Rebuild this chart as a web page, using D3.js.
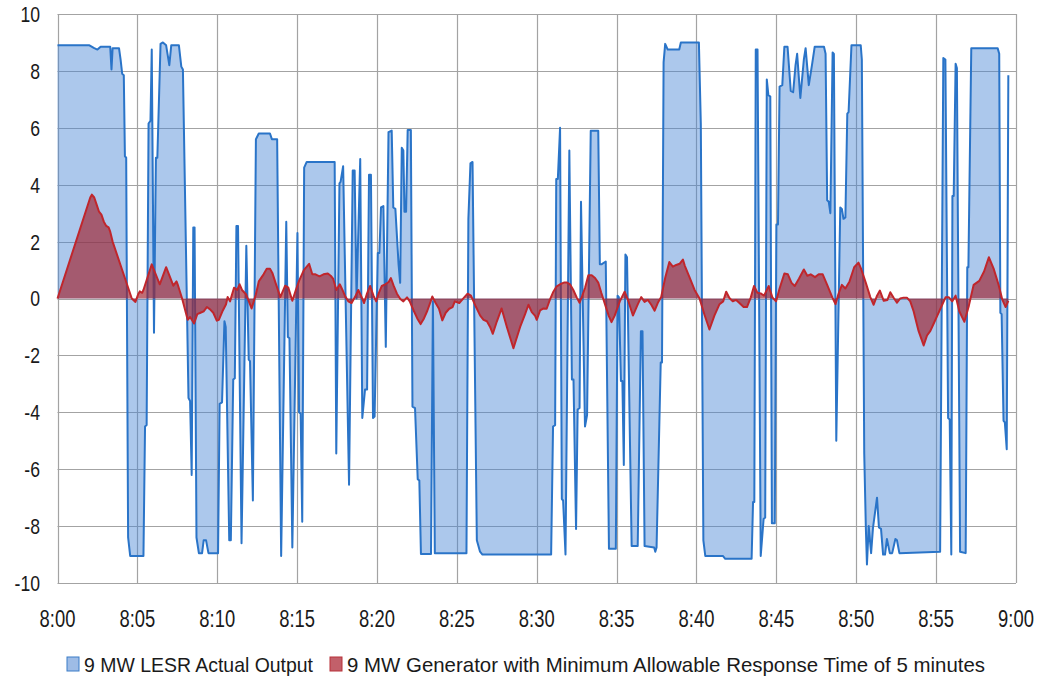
<!DOCTYPE html>
<html>
<head>
<meta charset="utf-8">
<script src="https://cdn.jsdelivr.net/npm/d3@7"></script>
<style>
  html, body { margin: 0; padding: 0; background: #fff; }
  svg text { font-family: "Liberation Sans", Arial, sans-serif; fill: #1a1a1a; }
</style>
</head>
<body>
<svg id="chart" width="1039" height="677"></svg>
<script>
// minutes after 8:00, MW
var lesrOutput = [
  [0, 8.9], [2.0, 8.9], [2.3, 8.8], [2.5, 8.75], [2.7, 8.85], [3.3, 8.85], [3.38, 8.05], [3.45, 8.8],
  [3.85, 8.8], [3.95, 8.4], [4.05, 7.9], [4.15, 7.85], [4.22, 5.0], [4.3, 4.95], [4.42, -8.4], [4.55, -9.05],
  [5.38, -9.05], [5.48, -4.5], [5.58, -4.45], [5.7, 6.15], [5.82, 6.25], [5.9, 8.75], [6.04, -1.2], [6.16, 4.95],
  [6.25, 4.95], [6.45, 8.95], [6.6, 9.0], [6.8, 8.9], [7.0, 8.2], [7.12, 8.9], [7.6, 8.9], [7.75, 8.15],
  [7.85, 8.05], [8.2, -3.5], [8.3, -3.6], [8.4, -6.2], [8.5, 2.5], [8.58, 2.5], [8.7, -8.4], [8.85, -8.95],
  [9.05, -8.95], [9.15, -8.5], [9.3, -8.5], [9.45, -8.95], [10.05, -8.95], [10.15, -3.7], [10.3, -3.65],
  [10.45, -0.8], [10.53, -1.0], [10.75, -8.5], [10.85, -8.5], [11.0, -2.85], [11.1, -2.8], [11.2, 2.55],
  [11.3, 2.55], [11.52, -8.6], [11.82, 1.85], [11.97, -2.15], [12.05, -2.2], [12.23, -7.1], [12.42, 5.6],
  [12.6, 5.8], [13.3, 5.8], [13.42, 5.6], [13.75, 5.6], [14.0, -9.05], [14.32, 2.7], [14.42, -1.35],
  [14.52, -1.4], [14.7, -8.75], [15.02, 2.3], [15.12, -4.0], [15.22, -4.05], [15.32, -7.85], [15.44, 4.6],
  [15.6, 4.8], [17.35, 4.8], [17.45, -5.45], [17.65, 4.05], [17.72, 4.1], [17.88, 4.65], [18.25, -6.55],
  [18.48, 4.5], [18.6, 4.5], [18.72, 0.0], [18.95, 4.9], [19.08, -4.2], [19.25, -3.2], [19.38, -3.2],
  [19.5, 4.35], [19.62, 4.35], [19.75, -4.2], [19.85, -4.15], [20.05, 1.6], [20.15, 1.6], [20.25, 3.2],
  [20.4, 3.25], [20.55, -1.7], [20.72, 5.85], [20.92, 5.9], [21.02, 3.2], [21.15, 3.15], [21.35, 1.2],
  [21.45, 0.55], [21.55, 5.3], [21.65, 5.2], [21.72, 3.05], [21.82, 3.05], [21.92, 5.92], [22.12, 5.92],
  [22.22, -3.8], [22.38, -3.85], [22.55, -6.35], [22.65, -6.4], [22.75, -8.98], [23.38, -8.98], [23.5, -0.1],
  [23.62, -8.95], [25.6, -8.95], [25.72, 2.8], [25.85, 4.75], [25.98, 4.8], [26.25, -8.5], [26.45, -8.9],
  [26.6, -9.0], [30.9, -9.0], [31.02, -4.5], [31.15, -4.45], [31.22, 4.2], [31.32, 4.2], [31.46, 6.0],
  [31.57, -7.05], [31.65, -7.1], [31.8, -9.0], [32.04, 5.2], [32.2, -2.85], [32.3, -2.85], [32.46, -8.1],
  [32.56, -3.9], [32.68, -3.85], [32.77, 3.4], [33.02, -4.5], [33.15, -4.1], [33.38, 5.9], [33.85, 5.9],
  [33.95, 1.2], [34.05, 1.2], [34.32, 1.3], [34.52, -8.8], [34.95, -8.8], [35.06, 0.1], [35.14, 0.05],
  [35.27, -2.9], [35.36, -2.9], [35.45, -5.85], [35.55, 1.55], [35.65, 1.45], [35.94, -8.7], [36.32, -8.7],
  [36.52, -1.15], [36.62, -1.15], [36.75, -8.7], [37.35, -8.75], [37.42, -8.9], [37.5, -8.75], [37.76, -2.25],
  [37.84, -2.25], [37.94, 8.3], [38.04, 8.95], [38.2, 8.75], [38.92, 8.75], [39.02, 9.0], [40.15, 9.0],
  [40.27, 6.15], [40.43, -8.5], [40.55, -9.05], [41.65, -9.05], [41.8, -9.15], [43.45, -9.15], [43.54, -7.15],
  [43.62, -7.15], [43.71, 8.75], [43.82, 8.75], [44.02, -9.05], [44.2, -7.75], [44.3, -7.7], [44.4, 7.7],
  [44.5, 7.15], [44.62, 7.1], [44.72, -7.9], [44.9, -7.9], [45.0, 2.6], [45.1, 2.6], [45.2, 7.45],
  [45.37, 7.5], [45.5, 8.85], [45.7, 8.85], [45.9, 7.3], [46.05, 7.25], [46.2, 8.2], [46.3, 8.6],
  [46.5, 7.05], [46.72, 8.4], [46.83, 8.8], [47.03, 7.5], [47.24, 8.25], [47.4, 8.85], [47.98, 8.85],
  [48.08, 8.6], [48.18, 3.45], [48.28, 3.4], [48.38, 3.0], [48.52, 8.65], [48.6, 8.6], [48.75, -5.0],
  [49.0, 3.2], [49.1, 3.15], [49.2, 2.8], [49.32, 2.85], [49.44, 6.5], [49.52, 6.55], [49.7, 8.9],
  [50.28, 8.9], [50.35, 8.4], [50.5, -5.45], [50.6, -8.05], [50.67, -9.35], [50.78, -8.0], [50.93, -8.95],
  [51.05, -8.05], [51.3, -7.0], [51.42, -8.05], [51.55, -8.1], [51.68, -9.0], [51.8, -9.0], [51.92, -8.45],
  [52.1, -8.95], [52.25, -8.95], [52.45, -8.45], [52.55, -8.5], [52.7, -8.95], [55.25, -8.9], [55.45, 8.45],
  [55.58, 8.4], [55.75, -4.2], [55.85, -4.25], [55.95, -9.0], [56.02, 3.6], [56.1, 3.6], [56.22, 8.25],
  [56.3, 8.1], [56.5, -8.9], [56.85, -8.95], [56.95, 1.1], [57.02, 1.1], [57.2, 8.8], [58.85, 8.8],
  [58.95, 8.6], [59.02, -0.5], [59.1, -0.55], [59.22, -4.3], [59.3, -4.35], [59.42, -5.3], [59.52, 7.85]
];

var generatorOutput = [
  [0, 0], [2.05, 3.55], [2.15, 3.65], [2.3, 3.55], [2.45, 3.3], [2.6, 3.05], [2.75, 2.95], [2.9, 2.7],
  [3.05, 2.55], [3.2, 2.5], [3.3, 2.35], [3.45, 2.0], [4.65, 0.0], [4.88, -0.12], [5.05, 0.15], [5.15, 0.25],
  [5.3, 0.2], [5.38, 0.3], [5.9, 1.2], [6.4, 0.5], [6.8, 1.1], [7.25, 0.45], [7.45, 0.6], [7.55, 0.45],
  [7.8, 0.0], [8.15, -0.75], [8.3, -0.65], [8.55, -0.88], [8.75, -0.55], [8.95, -0.5], [9.15, -0.45],
  [9.35, -0.3], [9.55, -0.38], [9.75, -0.5], [9.97, -0.78], [10.1, -0.75], [10.35, -0.42], [10.55, -0.2],
  [10.65, 0.05], [10.8, -0.1], [11.05, 0.38], [11.25, 0.3], [11.4, 0.5], [11.55, 0.3], [11.8, 0.15],
  [12.15, -0.35], [12.42, 0.15], [12.6, 0.6], [12.9, 0.85], [13.1, 1.05], [13.3, 1.05], [13.45, 0.9],
  [13.65, 0.55], [13.95, 0.05], [14.25, 0.45], [14.45, 0.38], [14.7, -0.08], [14.92, 0.3], [15.12, 0.62],
  [15.42, 1.0], [15.75, 1.22], [15.95, 0.85], [16.15, 0.85], [16.4, 0.78], [16.65, 0.85], [16.92, 0.88],
  [17.1, 0.8], [17.25, 0.7], [17.46, 0.3], [17.67, 0.5], [17.84, 0.3], [17.99, 0.1], [18.2, -0.1],
  [18.41, -0.16], [18.62, 0.05], [18.83, 0.3], [19.04, 0.05], [19.19, -0.16], [19.36, 0.15], [19.57, 0.44],
  [19.78, 0.1], [19.95, -0.1], [20.1, 0.17], [20.3, 0.44], [20.52, 0.5], [20.73, 0.58], [20.87, 0.72],
  [21.04, 0.45], [21.25, 0.17], [21.46, -0.02], [21.65, -0.1], [21.88, 0.04], [22.05, -0.1], [22.3, -0.43],
  [22.52, -0.7], [22.73, -0.9], [22.94, -0.7], [23.15, -0.43], [23.36, -0.1], [23.46, 0.07], [23.67, -0.16],
  [23.88, -0.36], [24.09, -0.77], [24.3, -0.5], [24.52, -0.36], [24.73, -0.3], [24.87, -0.1], [25.15, -0.16],
  [25.46, 0.04], [25.67, 0.17], [25.88, 0.1], [26.2, -0.3], [26.46, -0.6], [26.67, -0.75], [26.88, -0.8],
  [27.08, -1.0], [27.25, -1.24], [27.5, -0.81], [27.8, -0.35], [28.13, -1.0], [28.54, -1.75], [28.96, -1.0],
  [29.27, -0.55], [29.48, -0.22], [29.69, -0.48], [29.9, -0.61], [30.0, -0.75], [30.21, -0.42], [30.42, -0.35],
  [30.62, -0.36], [30.83, -0.03], [31.04, 0.24], [31.25, 0.43], [31.46, 0.5], [31.7, 0.56], [31.9, 0.56],
  [32.08, 0.5], [32.29, 0.3], [32.5, 0.04], [32.68, -0.15], [32.85, 0.1], [33.02, 0.37], [33.23, 0.82],
  [33.44, 0.82], [33.65, 0.72], [33.85, 0.56], [34.04, 0.2], [34.3, -0.25], [34.5, -0.6], [34.68, -0.83],
  [34.88, -0.6], [35.2, -0.1], [35.5, 0.24], [35.69, -0.02], [36.02, -0.6], [36.33, -0.2], [36.54, 0.05],
  [36.75, -0.12], [36.95, -0.05], [37.17, -0.22], [37.38, -0.43], [37.58, -0.15], [37.79, 0.05], [38.05, 0.75],
  [38.3, 1.28], [38.52, 1.12], [38.73, 1.18], [38.94, 1.22], [39.15, 1.37], [39.27, 1.15], [39.56, 0.75],
  [39.88, 0.3], [40.19, 0.0], [40.5, -0.57], [40.81, -1.09], [41.12, -0.6], [41.44, -0.2], [41.67, -0.1],
  [41.86, 0.24], [42.06, 0.02], [42.27, -0.1], [42.48, -0.05], [42.67, -0.15], [42.95, -0.3], [43.16, -0.3],
  [43.4, 0.04], [43.6, 0.44], [43.81, 0.2], [44.02, 0.18], [44.23, 0.1], [44.52, 0.44], [44.75, 0.04],
  [44.98, -0.1], [45.2, 0.35], [45.5, 0.88], [45.72, 0.85], [45.95, 0.55], [46.15, 0.44], [46.42, 0.7],
  [46.72, 1.02], [46.94, 0.8], [47.15, 0.85], [47.42, 0.75], [47.65, 0.85], [47.9, 0.85], [48.18, 0.48],
  [48.5, 0.04], [48.7, -0.2], [48.88, 0.15], [49.1, 0.48], [49.32, 0.35], [49.58, 0.6], [49.87, 1.1],
  [50.14, 1.26], [50.3, 1.05], [50.6, 0.55], [50.88, 0.05], [51.09, -0.22], [51.3, 0.1], [51.48, 0.28],
  [51.72, -0.08], [51.95, -0.05], [52.13, 0.22], [52.35, 0.02], [52.55, -0.15], [52.75, 0.0], [52.96, 0.03],
  [53.17, 0.03], [53.38, -0.1], [53.59, -0.45], [53.9, -1.14], [54.22, -1.65], [54.43, -1.3], [54.64, -1.14],
  [54.85, -0.88], [55.06, -0.62], [55.38, -0.22], [55.59, 0.04], [55.8, 0.04], [56.01, -0.1], [56.22, 0.1],
  [56.45, -0.45], [56.77, -0.82], [57.05, -0.25], [57.35, 0.48], [57.7, 0.62], [58.0, 0.95], [58.3, 1.45],
  [58.6, 1.05], [58.9, 0.5], [59.15, -0.05], [59.35, -0.3], [59.52, -0.08]
];

var timeTicks = [0, 5, 10, 15, 20, 25, 30, 35, 40, 45, 50, 55, 60];
var timeLabels = ['8:00', '8:05', '8:10', '8:15', '8:20', '8:25', '8:30', '8:35', '8:40', '8:45', '8:50', '8:55', '9:00'];
var mwTicks = [-10, -8, -6, -4, -2, 0, 2, 4, 6, 8, 10];
var seriesNames = ['9 MW LESR Actual Output', '9 MW Generator with Minimum Allowable Response Time of 5 minutes'];

var width = 1039;
var height = 677;
var margin = { left: 57.5, right: 23, top: 14, bottom: 94 };
var squeeze = 0.8; // the picture's text is narrow and tall

var svg = d3.select('#chart');

var x = d3.scaleLinear()
  .domain([0, 60])
  .range([margin.left, width - margin.right]);

var y = d3.scaleLinear()
  .domain([-10, 10])
  .range([height - margin.bottom, margin.top]);

// gridlines
var grid = svg.append('g').attr('class', 'grid');
grid.selectAll('.hgrid')
  .data(mwTicks)
  .enter()
  .append('line')
  .attr('x1', x(0))
  .attr('x2', x(60))
  .attr('y1', function(d) { return Math.round(y(d)) + 0.5; })
  .attr('y2', function(d) { return Math.round(y(d)) + 0.5; })
  .style('stroke', '#a3a3a3')
  .style('stroke-width', 1.2);

grid.selectAll('.vgrid')
  .data(timeTicks)
  .enter()
  .append('line')
  .attr('x1', function(d) { return Math.round(x(d)) + 0.5; })
  .attr('x2', function(d) { return Math.round(x(d)) + 0.5; })
  .attr('y1', y(10))
  .attr('y2', y(-10))
  .style('stroke', '#a3a3a3')
  .style('stroke-width', 1.2);

var area = d3.area()
  .x(function(d) { return x(d[0]); })
  .y0(y(0))
  .y1(function(d) { return y(d[1]); });

var line = d3.line()
  .x(function(d) { return x(d[0]); })
  .y(function(d) { return y(d[1]); });

// LESR series
svg.append('path')
  .datum(lesrOutput)
  .attr('d', area)
  .style('fill', 'rgba(72, 132, 212, 0.45)');

svg.append('path')
  .datum(lesrOutput)
  .attr('d', line)
  .style('fill', 'none')
  .style('stroke', '#2a74c8')
  .style('stroke-width', 2)
  .style('stroke-linejoin', 'round');

// generator series on top
svg.append('path')
  .datum(generatorOutput)
  .attr('d', area)
  .style('fill', 'rgba(160, 34, 46, 0.66)');

svg.append('path')
  .datum(generatorOutput)
  .attr('d', line)
  .style('fill', 'none')
  .style('stroke', '#c0262c')
  .style('stroke-width', 2)
  .style('stroke-linejoin', 'round');

// y labels
svg.selectAll('.ylabel')
  .data(mwTicks)
  .enter()
  .append('text')
  .attr('transform', function(d) {
    return 'translate(40,' + y(d) + ') scale(' + squeeze + ',1)';
  })
  .attr('dy', '0.36em')
  .attr('text-anchor', 'end')
  .style('font-size', '22px')
  .text(function(d) { return d; });

// x labels
svg.selectAll('.xlabel')
  .data(timeTicks)
  .enter()
  .append('text')
  .attr('transform', function(d) {
    return 'translate(' + x(d) + ',627) scale(' + squeeze + ',1)';
  })
  .attr('text-anchor', 'middle')
  .style('font-size', '23px')
  .text(function(d, i) { return timeLabels[i]; });

// legend
var legendFill = ['#9ebce6', '#c2606a'];
var legendStroke = ['#3a7cc8', '#b83038'];
var legendX = [67, 330];
var legendTextWidth = [229, 638];
var legend = svg.selectAll('.legend')
  .data(seriesNames)
  .enter()
  .append('g')
  .attr('class', 'legend')
  .attr('transform', function(d, i) { return 'translate(' + legendX[i] + ',657)'; });

legend.append('rect')
  .attr('width', 12)
  .attr('height', 14)
  .style('fill', function(d, i) { return legendFill[i]; })
  .style('stroke', function(d, i) { return legendStroke[i]; })
  .style('stroke-width', 1);

legend.append('text')
  .attr('x', 17)
  .attr('y', 15)
  .attr('textLength', function(d, i) { return legendTextWidth[i]; })
  .attr('lengthAdjust', 'spacingAndGlyphs')
  .style('font-size', '21px')
  .text(function(d) { return d; });
</script>
</body>
</html>
